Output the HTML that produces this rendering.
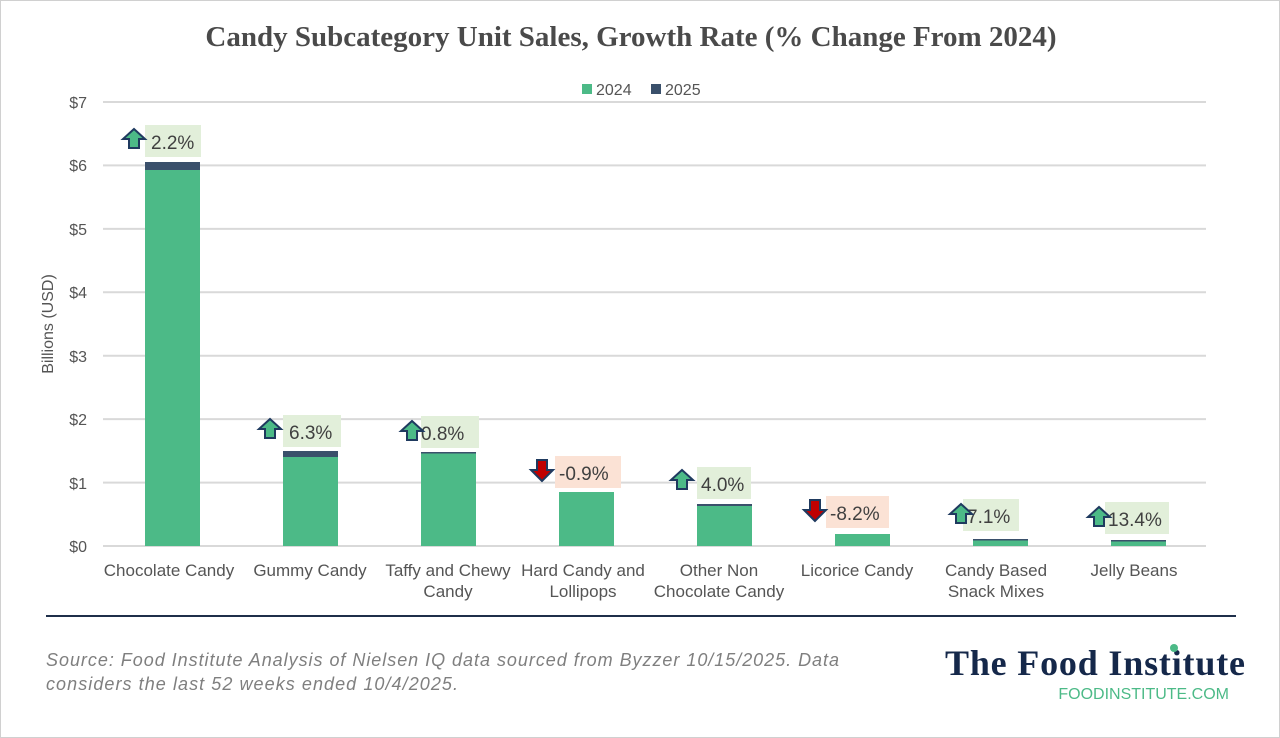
<!DOCTYPE html>
<html><head><style>
body{margin:0;background:#fff;}
#c{position:relative;width:1278px;height:736px;border:1px solid #d0d0d0;overflow:hidden;font-family:"Liberation Sans",sans-serif;}
.t{position:absolute;white-space:nowrap;}
</style></head><body><div id="c">
<div class="t" style="left:0;width:1260px;top:20px;text-align:center;font-family:'Liberation Serif',serif;font-weight:bold;font-size:29px;color:#4a4a4a;">Candy Subcategory Unit Sales, Growth Rate (% Change From 2024)</div>
<svg width="1278" height="736" style="position:absolute;left:0;top:0" font-family="Liberation Sans, sans-serif">
<g stroke="#d9d9d9" stroke-width="2">
<line x1="102" x2="1205" y1="101" y2="101"/><line x1="102" x2="1205" y1="164.4" y2="164.4"/><line x1="102" x2="1205" y1="227.9" y2="227.9"/><line x1="102" x2="1205" y1="291.3" y2="291.3"/><line x1="102" x2="1205" y1="354.7" y2="354.7"/><line x1="102" x2="1205" y1="418.1" y2="418.1"/><line x1="102" x2="1205" y1="481.6" y2="481.6"/><line x1="102" x2="1205" y1="545" y2="545"/>
</g>
<g font-size="16" fill="#555" text-anchor="end">
<text x="86" y="107">$7</text><text x="86" y="170">$6</text><text x="86" y="234">$5</text><text x="86" y="297">$4</text><text x="86" y="361">$3</text><text x="86" y="424">$2</text><text x="86" y="488">$1</text><text x="86" y="551">$0</text>
</g>
<text transform="translate(52,323) rotate(-90)" font-size="16" fill="#555" text-anchor="middle">Billions (USD)</text>
<rect x="581" y="83" width="10" height="10" fill="#4cba87"/><text x="595" y="94" font-size="16" fill="#555">2024</text>
<rect x="650" y="83" width="10" height="10" fill="#3a506b"/><text x="664" y="94" font-size="16" fill="#555">2025</text>
<g fill="#4cba87">
<rect x="144" y="169" width="55" height="376"/>
<rect x="282" y="456" width="55" height="89"/>
<rect x="420" y="452" width="55" height="93"/>
<rect x="558" y="491" width="55" height="54"/>
<rect x="696" y="505" width="55" height="40"/>
<rect x="834" y="533" width="55" height="12"/>
<rect x="972" y="539" width="55" height="6"/>
<rect x="1110" y="540" width="55" height="5"/>
</g>
<g fill="#3a506b">
<rect x="144" y="161" width="55" height="8"/>
<rect x="282" y="450" width="55" height="6"/>
<rect x="420" y="451" width="55" height="1.5"/>
<rect x="696" y="503" width="55" height="2"/>
<rect x="972" y="538" width="55" height="1.5"/>
<rect x="1110" y="539" width="55" height="1.5"/>
</g>
<g font-size="19" fill="#404040">
<rect x="144" y="124" width="56" height="32" fill="#e2efda"/><text x="150" y="148">2.2%</text>
<rect x="282" y="414" width="58" height="32" fill="#e2efda"/><text x="288" y="438">6.3%</text>
<rect x="420" y="415" width="58" height="32" fill="#e2efda"/><text x="420" y="439">0.8%</text>
<rect x="554" y="455" width="66" height="32" fill="#fbe2d5"/><text x="558" y="479">-0.9%</text>
<rect x="696" y="466" width="54" height="32" fill="#e2efda"/><text x="700" y="490">4.0%</text>
<rect x="825" y="495" width="63" height="32" fill="#fbe2d5"/><text x="829" y="519">-8.2%</text>
<rect x="962" y="498" width="56" height="32" fill="#e2efda"/><text x="966" y="522">7.1%</text>
<rect x="1104" y="501" width="64" height="32" fill="#e2efda"/><text x="1107" y="525">13.4%</text>
</g>
<g stroke="#1f3a5f" stroke-width="2">
<g fill="#4cba87">
<path d="M133 128 l11 10 h-6 v9 h-10 v-9 h-6 z"/>
<path d="M269 418 l11 10 h-6 v9 h-10 v-9 h-6 z"/>
<path d="M411 420 l11 10 h-6 v9 h-10 v-9 h-6 z"/>
<path d="M681 469 l11 10 h-6 v9 h-10 v-9 h-6 z"/>
<path d="M960 503 l11 10 h-6 v9 h-10 v-9 h-6 z"/>
<path d="M1098 506 l11 10 h-6 v9 h-10 v-9 h-6 z"/>
</g>
<g fill="#c00000">
<path d="M541 480 l-11 -11 h6 v-10 h10 v10 h6 z"/>
<path d="M814 520 l-11 -11 h6 v-10 h10 v10 h6 z"/>
</g>
</g>
<g font-size="17" fill="#555" text-anchor="middle">
<text x="168" y="575">Chocolate Candy</text>
<text x="309" y="575">Gummy Candy</text>
<text x="447" y="575">Taffy and Chewy</text><text x="447" y="596">Candy</text>
<text x="582" y="575">Hard Candy and</text><text x="582" y="596">Lollipops</text>
<text x="718" y="575">Other Non</text><text x="718" y="596">Chocolate Candy</text>
<text x="856" y="575">Licorice Candy</text>
<text x="995" y="575">Candy Based</text><text x="995" y="596">Snack Mixes</text>
<text x="1133" y="575">Jelly Beans</text>
</g>
<line x1="45" x2="1235" y1="615" y2="615" stroke="#1f2f4a" stroke-width="2"/>
<g font-size="18" fill="#7f7f7f" font-style="italic">
<text x="45" y="665" textLength="793">Source: Food Institute Analysis of Nielsen IQ data sourced from Byzzer 10/15/2025. Data</text>
<text x="45" y="689" textLength="412">considers the last 52 weeks ended 10/4/2025.</text>
</g>
<text x="1244" y="674" text-anchor="end" font-family="Liberation Serif, serif" font-weight="bold" font-size="36" fill="#15284a" textLength="300">The Food Institute</text>
<circle cx="1173" cy="647" r="4" fill="#4cba87"/>
<text x="1228" y="698" text-anchor="end" font-size="16" fill="#4cba87">FOODINSTITUTE.COM</text>
</svg>
</div></body></html>
